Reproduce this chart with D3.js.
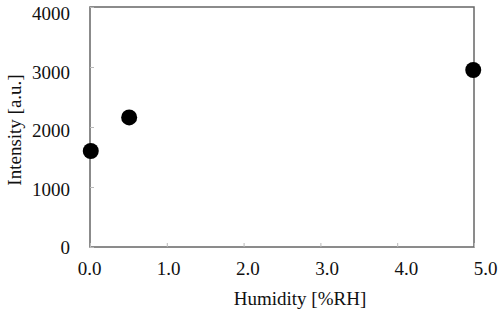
<!DOCTYPE html>
<html><head><meta charset="utf-8">
<script src="https://cdn.jsdelivr.net/npm/d3@7"></script>
<style>body{margin:0;background:#fff}svg text{font-family:"Liberation Serif","Times New Roman","DejaVu Serif",serif !important;fill:#111}</style>
</head><body><svg id="c" width="500" height="315"></svg>
<script>
const humidity = [0.01, 0.51, 4.99];
const intensity = [1600, 2160, 2950];
const xTicks = [0, 1, 2, 3, 4, 5];
const yTicks = [0, 1000, 2000, 3000, 4000];

const svg = d3.select("#c");
const m = {l: 90, r: 474, t: 7, b: 247};
const x = d3.scaleLinear().domain([0, 5]).range([m.l, m.r]);
const y = d3.scaleLinear().domain([0, 4000]).range([m.b, m.t]);
// label placement scales (labels are spread slightly differently from ticks)
const xLab = d3.scaleLinear().domain([0, 5]).range([89, 485]);
const yLab = d3.scaleLinear().domain([0, 4000]).range([247.5, 13.5]);
const FS = 19;

svg.append("rect").attr("x", m.l).attr("y", m.t).attr("width", m.r - m.l).attr("height", m.b - m.t)
  .attr("fill", "none").attr("stroke", "#666").attr("stroke-width", 1.5);

const xa = svg.append("g").attr("transform", `translate(0,${m.b})`)
  .call(d3.axisBottom(x).tickValues(xTicks).tickSizeInner(-4).tickSizeOuter(0).tickPadding(13).tickFormat(d3.format(".1f")));
const ya = svg.append("g").attr("transform", `translate(${m.l},0)`)
  .call(d3.axisLeft(y).tickValues(yTicks).tickSizeInner(-4).tickSizeOuter(0).tickPadding(20).tickFormat(d3.format("d")));
[xa, ya].forEach(a => {
  a.attr("font-family", null).attr("font-size", null);
  a.select(".domain").remove();
  a.selectAll(".tick line").attr("stroke", "#bbb");
  a.selectAll(".tick text").style("font-size", FS + "px").attr("fill", "#111");
});
xa.selectAll(".tick text").attr("dy", "0.8em").attr("x", d => xLab(d) - x(d));
ya.selectAll(".tick text").attr("y", d => yLab(d) - y(d));

svg.append("g").selectAll("circle").data(humidity).join("circle")
  .attr("cx", d => x(d)).attr("cy", (d, i) => y(intensity[i])).attr("r", 8).attr("fill", "#000");

svg.append("text").attr("x", 300).attr("y", 305).attr("text-anchor", "middle")
  .style("font-size", FS + "px").text("Humidity [%RH]");
svg.append("text").attr("transform", "translate(21,130) rotate(-90)").attr("text-anchor", "middle")
  .style("font-size", FS + "px").text("Intensity [a.u.]");
</script></body></html>
